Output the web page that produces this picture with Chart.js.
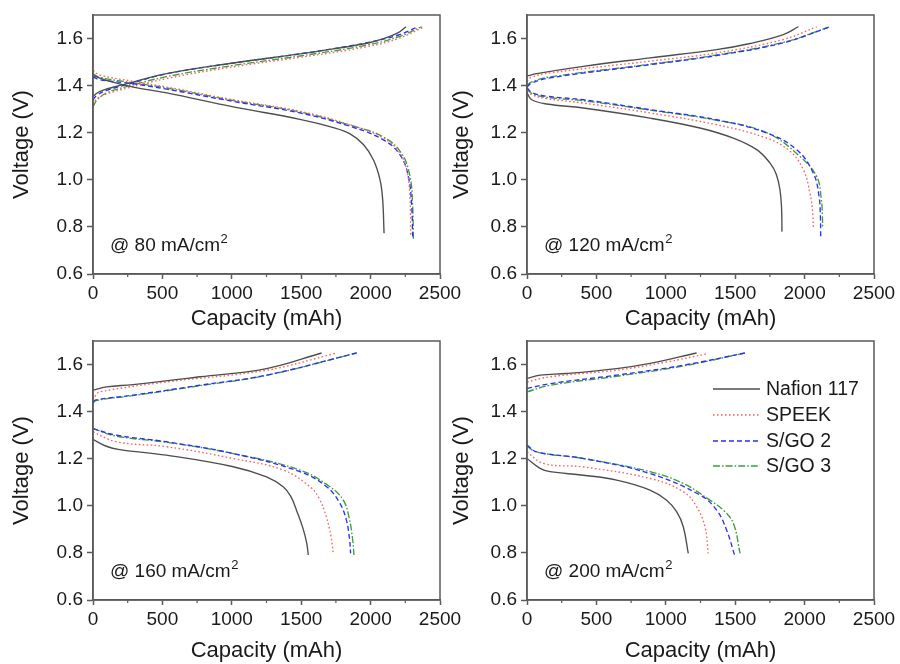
<!DOCTYPE html>
<html>
<head>
<meta charset="utf-8">
<script src="https://cdn.jsdelivr.net/npm/chart.js@4.4.1/dist/chart.umd.min.js"></script>
<style>
  html, body { margin: 0; padding: 0; background: #ffffff; }
  #wrap { position: relative; width: 900px; height: 664px; overflow: hidden; background: #fff; }
  canvas { position: absolute; }
</style>
</head>
<body>
<div id="wrap">
  <canvas id="c80" width="470" height="332" style="left:0;top:0"></canvas>
  <canvas id="c120" width="460" height="332" style="left:440px;top:0"></canvas>
  <canvas id="c160" width="470" height="332" style="left:0;top:332px"></canvas>
  <canvas id="c200" width="460" height="332" style="left:440px;top:332px"></canvas>
</div>
<script>
// ---------- categories / ticks ----------
const membranes = ['Nafion 117', 'SPEEK', 'S/GO 2', 'S/GO 3'];
const currentDensities = [80, 120, 160, 200];   // mA/cm2
const xTicks = [0, 500, 1000, 1500, 2000, 2500];
const xMinorTicks = [250, 750, 1250, 1750, 2250];
const yTicks = [0.6, 0.8, 1.0, 1.2, 1.4, 1.6];

// ---------- 80 mA/cm2 : [capacity mAh, voltage V] ----------
const nafion80Charge = [[0,1.355],[50,1.376],[218,1.404],[530,1.451],[1011,1.496],[1491,1.535],[1732,1.556],[1972,1.58],[2092,1.600],[2200,1.625],[2255,1.65]];
const speek80Charge  = [[0,1.32],[30,1.345],[100,1.365],[250,1.39],[530,1.43],[1011,1.48],[1491,1.52],[1972,1.565],[2200,1.60],[2380,1.648]];
const sgo2_80Charge  = [[0,1.34],[30,1.36],[100,1.38],[250,1.405],[530,1.45],[1011,1.496],[1491,1.535],[1972,1.582],[2200,1.615],[2344,1.65]];
const sgo3_80Charge  = [[0,1.31],[30,1.34],[100,1.37],[250,1.397],[530,1.438],[1011,1.486],[1491,1.526],[1972,1.572],[2200,1.607],[2368,1.65]];
const nafion80Discharge = [[0,1.443],[122,1.418],[291,1.394],[531,1.369],[1011,1.31],[1491,1.257],[1732,1.222],[1852,1.195],[1948,1.15],[2020,1.085],[2068,1.0],[2087,0.915],[2097,0.773]];
const speek80Discharge  = [[0,1.465],[50,1.445],[291,1.418],[531,1.394],[1011,1.34],[1491,1.291],[1852,1.234],[2092,1.177],[2212,1.113],[2265,1.028],[2284,0.915],[2289,0.766]];
const sgo2_80Discharge  = [[0,1.437],[50,1.425],[291,1.408],[531,1.385],[1011,1.333],[1491,1.284],[1852,1.227],[2092,1.17],[2212,1.106],[2272,1.014],[2296,0.887],[2303,0.759]];
const sgo3_80Discharge  = [[0,1.451],[50,1.435],[291,1.412],[531,1.39],[1011,1.337],[1491,1.288],[1852,1.232],[2092,1.182],[2222,1.113],[2284,1.014],[2303,0.887],[2308,0.748]];

// ---------- 120 mA/cm2 ----------
const nafion120Charge = [[0,1.44],[70,1.451],[406,1.482],[886,1.518],[1366,1.553],[1607,1.579],[1847,1.617],[1955,1.65]];
const speek120Charge  = [[0,1.418],[30,1.435],[166,1.454],[886,1.504],[1366,1.539],[1847,1.596],[2087,1.65]];
const sgo2_120Charge  = [[0,1.394],[30,1.41],[166,1.433],[886,1.489],[1366,1.528],[1847,1.582],[2183,1.65]];
const sgo3_120Charge  = [[0,1.40],[30,1.415],[166,1.437],[886,1.491],[1366,1.53],[1847,1.584],[2183,1.65]];
const nafion120Discharge = [[0,1.369],[34,1.34],[142,1.322],[406,1.305],[886,1.262],[1246,1.22],[1486,1.177],[1655,1.128],[1751,1.071],[1795,1.025],[1822,0.96],[1834,0.88],[1837,0.78]];
const speek120Discharge  = [[0,1.376],[40,1.36],[142,1.345],[406,1.326],[886,1.284],[1366,1.234],[1727,1.177],[1895,1.121],[1991,1.043],[2039,0.943],[2058,0.86],[2063,0.794]];
const sgo2_120Discharge  = [[0,1.39],[40,1.37],[142,1.355],[406,1.34],[886,1.298],[1366,1.255],[1727,1.199],[1943,1.128],[2063,1.028],[2104,0.93],[2114,0.84],[2116,0.759]];
const sgo3_120Discharge  = [[0,1.385],[40,1.365],[142,1.35],[406,1.336],[886,1.296],[1366,1.253],[1727,1.2],[1967,1.099],[2087,1.014],[2120,0.92],[2128,0.85],[2130,0.794]];

// ---------- 160 mA/cm2 ----------
const nafion160Charge = [[0,1.491],[96,1.505],[288,1.515],[769,1.548],[1250,1.583],[1647,1.649]];
const speek160Charge  = [[0,1.449],[20,1.47],[48,1.484],[529,1.526],[1250,1.576],[1743,1.647]];
const sgo2_160Charge  = [[0,1.442],[20,1.45],[288,1.47],[769,1.512],[1250,1.555],[1899,1.649]];
const sgo3_160Charge  = [[0,1.435],[20,1.447],[288,1.468],[769,1.51],[1250,1.554],[1899,1.649]];
const nafion160Discharge = [[0,1.282],[96,1.253],[192,1.239],[529,1.215],[1010,1.166],[1250,1.123],[1370,1.081],[1425,1.04],[1470,0.975],[1515,0.9],[1540,0.84],[1551,0.791]];
const speek160Discharge  = [[0,1.314],[168,1.272],[529,1.251],[1010,1.201],[1370,1.152],[1563,1.081],[1630,1.03],[1680,0.955],[1715,0.87],[1731,0.798]];
const sgo2_160Discharge  = [[0,1.328],[168,1.3],[529,1.272],[1010,1.222],[1490,1.145],[1683,1.081],[1779,1.01],[1825,0.94],[1848,0.86],[1856,0.798]];
const sgo3_160Discharge  = [[0,1.328],[168,1.296],[529,1.27],[1010,1.222],[1490,1.152],[1707,1.081],[1803,1.024],[1845,0.95],[1870,0.86],[1880,0.791]];

// ---------- 200 mA/cm2 ----------
const nafion200Charge = [[0,1.541],[94,1.555],[286,1.562],[646,1.583],[886,1.605],[1222,1.649]];
const speek200Charge  = [[0,1.526],[166,1.548],[646,1.576],[1000,1.61],[1306,1.647]];
const sgo2_200Charge  = [[0,1.498],[166,1.519],[646,1.555],[1126,1.597],[1570,1.649]];
const sgo3_200Charge  = [[0,1.484],[166,1.512],[646,1.55],[1126,1.594],[1570,1.649]];
const nafion200Discharge = [[0,1.201],[94,1.159],[166,1.145],[406,1.13],[646,1.109],[886,1.067],[1006,1.024],[1078,0.975],[1126,0.911],[1162,0.798]];
const speek200Discharge  = [[0,1.229],[118,1.18],[406,1.165],[886,1.116],[1126,1.06],[1222,0.996],[1282,0.911],[1306,0.798]];
const sgo2_200Discharge  = [[0,1.258],[70,1.229],[406,1.201],[886,1.137],[1246,1.046],[1366,0.982],[1438,0.897],[1499,0.784]];
const sgo3_200Discharge  = [[0,1.253],[70,1.228],[406,1.201],[886,1.145],[1126,1.095],[1318,1.024],[1414,0.982],[1487,0.925],[1535,0.798]];

// ---------- styles ----------
const FONT = "'Liberation Sans', Arial, Helvetica, sans-serif";
const TEXT = '#1a1a1a';
const AXIS = '#5a5a5a';
const styles = [
  { color: '#4d4d4d', dash: [] },
  { color: '#ff5f5f', dash: [1.6, 2.4] },
  { color: '#2e2eff', dash: [5, 3] },
  { color: '#3c9e3c', dash: [7, 2, 1.6, 2] }
];

const panels = [
  { id: 'c80',  density: currentDensities[0], pad: {top: 15, right: 30}, yw: 93, xh: 58,
    curves: [[nafion80Charge, nafion80Discharge],[speek80Charge, speek80Discharge],[sgo2_80Charge, sgo2_80Discharge],[sgo3_80Charge, sgo3_80Discharge]] },
  { id: 'c120', density: currentDensities[1], pad: {top: 15, right: 26}, yw: 87, xh: 58,
    curves: [[nafion120Charge, nafion120Discharge],[speek120Charge, speek120Discharge],[sgo2_120Charge, sgo2_120Discharge],[sgo3_120Charge, sgo3_120Discharge]] },
  { id: 'c160', density: currentDensities[2], pad: {top: 9, right: 30}, yw: 93, xh: 64,
    curves: [[nafion160Charge, nafion160Discharge],[speek160Charge, speek160Discharge],[sgo2_160Charge, sgo2_160Discharge],[sgo3_160Charge, sgo3_160Discharge]] },
  { id: 'c200', density: currentDensities[3], pad: {top: 9, right: 26}, yw: 87, xh: 64, legend: true,
    curves: [[nafion200Charge, nafion200Discharge],[speek200Charge, speek200Discharge],[sgo2_200Charge, sgo2_200Discharge],[sgo3_200Charge, sgo3_200Discharge]] }
];

const toXY = arr => arr.map(p => ({ x: p[0], y: p[1] }));
const zeroPad = s => { s.paddingLeft = 0; s.paddingRight = 0; s.paddingTop = 0; s.paddingBottom = 0; };

const framePlugin = {
  id: 'frame',
  afterDraw(chart, args, opts) {
    const { ctx, chartArea: a, scales: { x } } = chart;
    ctx.save();
    ctx.strokeStyle = AXIS;
    ctx.lineWidth = 1.5;
    ctx.strokeRect(a.left, a.top, a.right - a.left, a.bottom - a.top);
    // minor x ticks
    ctx.lineWidth = 1.2;
    xMinorTicks.forEach(v => {
      const px = x.getPixelForValue(v);
      ctx.beginPath();
      ctx.moveTo(px, a.bottom);
      ctx.lineTo(px, a.bottom + 3);
      ctx.stroke();
    });
    // annotation
    ctx.fillStyle = TEXT;
    ctx.textBaseline = 'middle';
    ctx.textAlign = 'left';
    ctx.font = '19px ' + FONT;
    const main = '@ ' + opts.density + ' mA/cm';
    const tx = a.left + 17, ty = a.bottom - 28;
    ctx.fillText(main, tx, ty);
    const w = ctx.measureText(main).width;
    ctx.font = '13px ' + FONT;
    ctx.fillText('2', tx + w + 0.5, ty - 7);
    // legend
    if (opts.legend) {
      const rows = [48, 74, 100, 125];
      chart.data.datasets.filter(d => d.showInLegend).forEach((d, i) => {
        const y = a.top + rows[i];
        ctx.strokeStyle = d.borderColor;
        ctx.lineWidth = d.borderWidth;
        ctx.setLineDash(d.borderDash);
        ctx.beginPath();
        ctx.moveTo(a.left + 186, y);
        ctx.lineTo(a.left + 233, y);
        ctx.stroke();
        ctx.setLineDash([]);
        ctx.fillStyle = TEXT;
        ctx.font = '19.5px ' + FONT;
        ctx.fillText(d.label, a.left + 239, y + 1);
      });
    }
    ctx.restore();
  }
};

panels.forEach(p => {
  const datasets = [];
  p.curves.forEach((pair, i) => {
    pair.forEach((curve, j) => {
      datasets.push({
        label: membranes[i],
        showInLegend: j === 0,
        data: toXY(curve),
        showLine: true,
        borderColor: styles[i].color,
        borderDash: styles[i].dash,
        borderWidth: 1.35,
        pointRadius: 0,
        pointHoverRadius: 0,
        fill: false,
        tension: 0.4
      });
    });
  });
  new Chart(document.getElementById(p.id), {
    type: 'scatter',
    data: { datasets },
    plugins: [framePlugin],
    options: {
      responsive: false,
      animation: false,
      events: [],
      layout: { padding: { top: p.pad.top, right: p.pad.right, left: 0, bottom: 0 } },
      plugins: {
        legend: { display: false },
        tooltip: { enabled: false },
        frame: { density: p.density, legend: !!p.legend }
      },
      scales: {
        x: {
          type: 'linear', min: 0, max: 2500,
          afterBuildTicks: s => { s.ticks = xTicks.map(v => ({ value: v })); },
          afterFit: s => { s.height = p.xh; zeroPad(s); },
          ticks: { color: TEXT, font: { family: FONT, size: 19 }, padding: 3, maxRotation: 0, autoSkip: false, callback: v => String(v) },
          grid: { drawOnChartArea: false, tickLength: 5, tickColor: AXIS, tickWidth: 1.5 },
          border: { color: AXIS, width: 1.5 },
          title: { display: true, text: 'Capacity (mAh)', color: TEXT, font: { family: FONT, size: 22 }, padding: { top: 0, bottom: 0 } }
        },
        y: {
          type: 'linear', min: 0.6, max: 1.7,
          afterBuildTicks: s => { s.ticks = yTicks.map(v => ({ value: v })); },
          afterFit: s => { s.width = p.yw; zeroPad(s); },
          ticks: { color: TEXT, font: { family: FONT, size: 19 }, padding: 4, callback: v => Number(v).toFixed(1) },
          grid: { drawOnChartArea: false, tickLength: 6, tickColor: AXIS, tickWidth: 1.5 },
          border: { color: AXIS, width: 1.5 },
          title: { display: true, text: 'Voltage (V)', color: TEXT, font: { family: FONT, size: 22 }, padding: { top: 9, bottom: 0 } }
        }
      }
    }
  });
});
</script>
</body>
</html>
